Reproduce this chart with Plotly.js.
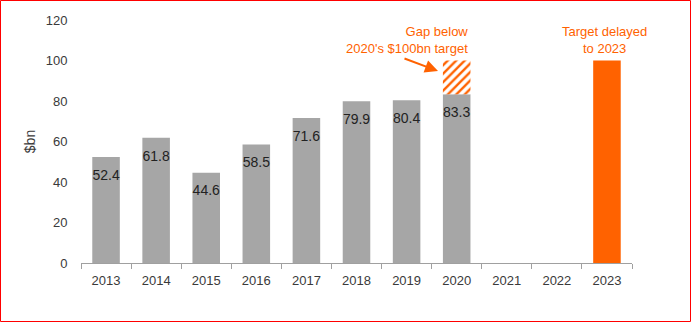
<!DOCTYPE html>
<html><head><meta charset="utf-8">
<script src="https://cdn.plot.ly/plotly-3.0.1.min.js"></script>
<style>html,body{margin:0;padding:0;background:#fff;}#chart{width:691px;height:323px;}</style>
</head><body><div id="chart"></div>
<script>
const years = ['2013','2014','2015','2016','2017','2018','2019','2020','2021','2022','2023'];
const actual = [52.4, 61.8, 44.6, 58.5, 71.6, 79.9, 80.4, 83.3, null, null, null];
const target2020 = 100;
const target2023 = [null, null, null, null, null, null, null, null, null, null, 100];
const yTicks = [0, 20, 40, 60, 80, 100, 120];

const grey = '#a6a6a6', orange = '#ff6200', txt = '#3a3a3a';
const font = 'Liberation Sans, Arial, sans-serif';

const i2020 = years.indexOf('2020');
const gap = years.map((y, i) => i === i2020 ? target2020 - actual[i2020] : null);
const base = years.map((y, i) => i === i2020 ? actual[i2020] : null);

const traces = [
  {type:'bar', x:years, y:actual, marker:{color:grey}, hoverinfo:'skip'},
  {type:'bar', x:years, y:gap, base:base, marker:{color:'#ffffff', line:{width:0}, pattern:{shape:'/', fgcolor:orange, bgcolor:'#ffffff', size:6, solidity:0.4}}, hoverinfo:'skip'},
  {type:'bar', x:years, y:target2023, marker:{color:orange}, hoverinfo:'skip'},
  {type:'scatter', mode:'markers+text', x:years, y:actual, text:actual.map(v => v==null ? '' : v.toFixed(1)),
   marker:{size:18, color:'rgba(0,0,0,0)'},
   textposition:'bottom center', textfont:{family:font, size:14, color:'#222'}, hoverinfo:'skip', cliponaxis:false}
];

const m = {l:81, r:59, t:20, b:60};
const W = 691, H = 323, pw = W - m.l - m.r, ph = H - m.t - m.b;
const px = xp => (xp - m.l) / pw;
const py = yp => 1 - (yp - m.t) / ph;

const layout = {
  width:W, height:H, margin:m, showlegend:false, barmode:'overlay', bargap:0.45,
  paper_bgcolor:'#fff', plot_bgcolor:'#fff',
  font:{family:font, size:13, color:txt},
  xaxis:{type:'category', range:[-0.5, years.length - 0.5], autorange:false, showgrid:false, showline:true, linecolor:'#a0a0a0', linewidth:1,
         ticks:'outside', tickson:'boundaries', ticklen:5, tickcolor:'#a0a0a0', tickangle:0, ticklabelstandoff:5,
         tickfont:{family:font, size:13, color:txt}, zeroline:false},
  yaxis:{range:[0,120], autorange:false, tickvals:yTicks, showgrid:false, zeroline:false, showline:false,
         tickfont:{family:font, size:13, color:txt}, ticks:'outside', ticklen:10, tickcolor:'rgba(0,0,0,0)',
         title:{text:'$bn', font:{family:font, size:14, color:txt}, standoff:6}},
  annotations:[
    {xref:'paper', yref:'paper', x:px(438), y:py(71), ax:-35, ay:-13, axref:'pixel', ayref:'pixel', text:'', showarrow:true,
     arrowhead:2, arrowsize:1.3, arrowwidth:2, arrowcolor:orange},
    {xref:'paper', yref:'paper', x:px(470), y:py(22), xanchor:'right', yanchor:'top', align:'right',
     text:'Gap below<br>2020\'s $100bn target', showarrow:false, font:{family:font, size:13, color:orange}},
    {xref:'paper', yref:'paper', x:px(604), y:py(22), xanchor:'center', yanchor:'top', align:'center',
     text:'Target delayed<br>to 2023', showarrow:false, font:{family:font, size:13, color:orange}}
  ],
  shapes:[
    {type:'rect', xref:'paper', yref:'paper', x0:px(0.5), x1:px(690.5), y0:py(321.5), y1:py(0.5),
     line:{color:'#ff0000', width:1}, fillcolor:'rgba(0,0,0,0)', layer:'above'}
  ]
};

Plotly.newPlot('chart', traces, layout, {staticPlot:true, displayModeBar:false});
</script></body></html>
